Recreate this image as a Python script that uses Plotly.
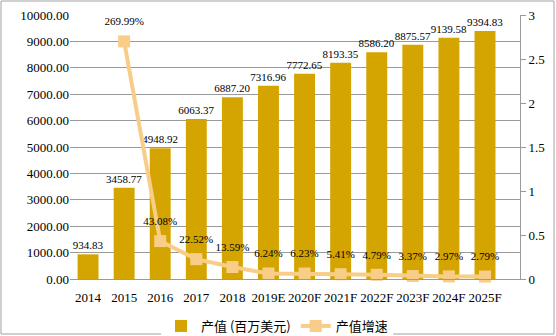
import plotly.graph_objects as go

years = ["2014", "2015", "2016", "2017", "2018", "2019E", "2020F",
         "2021F", "2022F", "2023F", "2024F", "2025F"]
output_value = [934.83, 3458.77, 4948.92, 6063.37, 6887.20, 7316.96, 7772.65,
                8193.35, 8586.20, 8875.57, 9139.58, 9394.83]
growth_years = years[1:]
growth_pct = [269.99, 43.08, 22.52, 13.59, 6.24, 6.23, 5.41, 4.79, 3.37, 2.97, 2.79]

SERIF = "Liberation Serif, Times New Roman, serif"
CJK = "Noto Sans CJK SC, sans-serif"
BAR_COLOR = "#D4A500"
LINE_COLOR = "#F8CD88"
GRID = "#9a9a9a"

W, H = 556, 336
ML, MR, MT, MB = 70, 36, 15, 57
PW, PH = W - ML - MR, H - MT - MB


def px_to_paper_x(px):
    return (px - ML) / PW


def px_to_paper_y(py):
    return (H - MB - py) / PH


growth_ratio = [p / 100 for p in growth_pct]

fig = go.Figure()

fig.add_trace(go.Bar(
    x=years, y=output_value, name="产值 (百万美元)",
    marker=dict(color=BAR_COLOR, line=dict(width=0)),
    text=[f"{v:.2f}" for v in output_value], textposition="outside",
    constraintext="none",
    textfont=dict(family=SERIF, size=11, color="#000"),
    cliponaxis=False,
))

fig.add_trace(go.Scatter(
    x=growth_years, y=growth_ratio, name="产值增速",
    yaxis="y2", mode="lines+markers",
    line=dict(color=LINE_COLOR, width=4),
    marker=dict(symbol="square", size=12, color=LINE_COLOR),
    cliponaxis=False,
))

# percentage labels, lifted a little above the square markers
fig.add_trace(go.Scatter(
    x=growth_years, y=growth_ratio, yaxis="y2", mode="markers+text",
    marker=dict(size=20, opacity=0),
    text=[f"{p:.2f}%" for p in growth_pct], textposition="top center",
    textfont=dict(family=SERIF, size=11, color="#000"),
    showlegend=False, hoverinfo="skip", cliponaxis=False,
))

fig.update_layout(
    width=W, height=H,
    margin=dict(l=ML, r=MR, t=MT, b=MB, autoexpand=False),
    paper_bgcolor="white", plot_bgcolor="white",
    bargap=0.42,
    showlegend=True,
    legend=dict(orientation="h", x=0.46, xanchor="center",
                y=px_to_paper_y(326), yanchor="middle",
                font=dict(family=CJK, size=13, color="#000"),
                itemwidth=30, traceorder="normal"),
    xaxis=dict(type="category", showgrid=False, showline=True, linecolor=GRID,
               ticks="", ticklabelstandoff=6,
               tickfont=dict(family=SERIF, size=13, color="#000")),
    yaxis=dict(range=[0, 10000], dtick=1000, tickformat=".2f",
               showgrid=True, gridcolor=GRID, gridwidth=1,
               showline=False, zeroline=False, ticks="",
               tickfont=dict(family=SERIF, size=13, color="#000")),
    yaxis2=dict(range=[0, 3], dtick=0.5, overlaying="y", side="right",
                showgrid=False, zeroline=False, showline=True, linecolor=GRID,
                ticks="outside", ticklen=5, tickcolor=GRID,
                tickfont=dict(family=SERIF, size=13, color="#000")),
    shapes=[dict(type="rect", xref="paper", yref="paper",
                 x0=px_to_paper_x(1), x1=px_to_paper_x(554),
                 y0=px_to_paper_y(334), y1=px_to_paper_y(1),
                 line=dict(color="#a0a0a0", width=1))],
)

fig.write_html("out.html")
